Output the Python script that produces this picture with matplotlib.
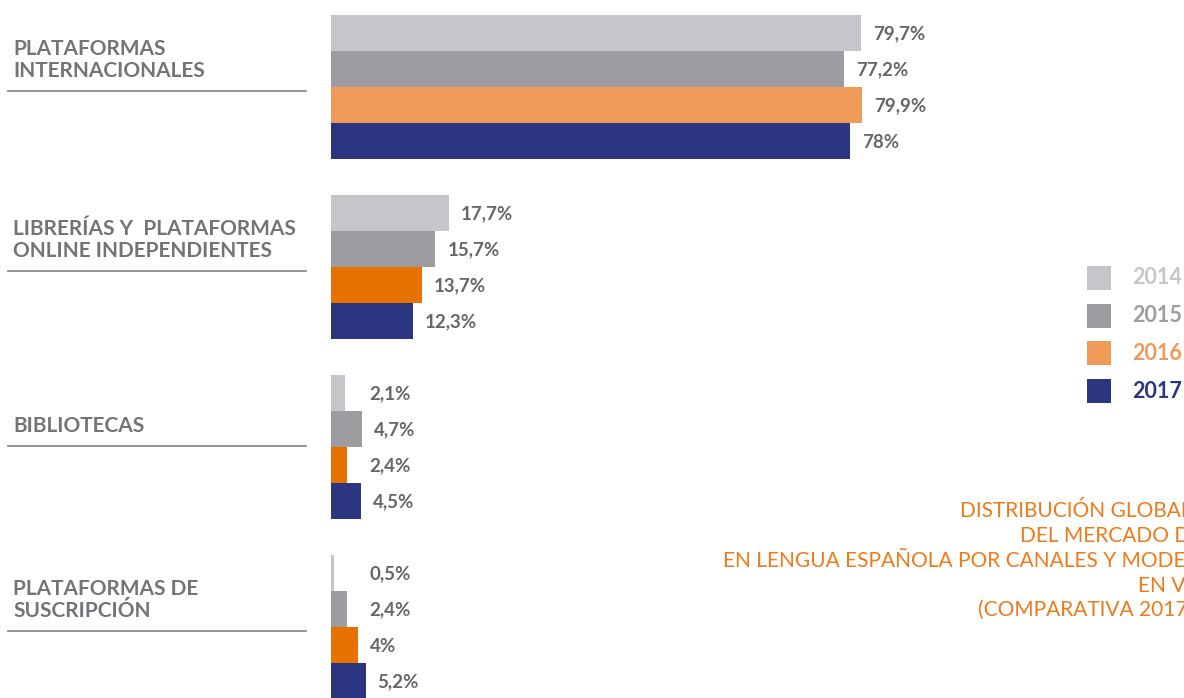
import matplotlib
matplotlib.use("Agg")
import matplotlib.pyplot as plt
from matplotlib.patches import Rectangle
from matplotlib.transforms import blended_transform_factory

# ---- data ----
categories = ["PLATAFORMAS\nINTERNACIONALES",
              "LIBRERÍAS Y  PLATAFORMAS\nONLINE INDEPENDIENTES",
              "BIBLIOTECAS",
              "PLATAFORMAS DE\nSUSCRIPCIÓN"]
years = ["2014", "2015", "2016", "2017"]
v2014 = [79.7, 17.7, 2.1, 0.5]
v2015 = [77.2, 15.7, 4.7, 2.4]
v2016 = [79.9, 13.7, 2.4, 4.0]
v2017 = [78.0, 12.3, 4.5, 5.2]
labels2014 = ["79,7%", "17,7%", "2,1%", "0,5%"]
labels2015 = ["77,2%", "15,7%", "4,7%", "2,4%"]
labels2016 = ["79,9%", "13,7%", "2,4%", "4%"]
labels2017 = ["78%", "12,3%", "4,5%", "5,2%"]
title_lines = ["DISTRIBUCIÓN GLOBAL DE",
               "DEL MERCADO DIGITAL",
               "EN LENGUA ESPAÑOLA POR CANALES Y MODELOS",
               "EN VALOR",
               "(COMPARATIVA 2017-2014)"]

series = [v2014, v2015, v2016, v2017]
series_labels = [labels2014, labels2015, labels2016, labels2017]

# ---- style ----
c14, c15, c16l, c16d, c17 = "#C5C6CA", "#9D9CA1", "#F09B5A", "#E87200", "#2B3580"
bar_colors = [[c14] * 4, [c15] * 4, [c16l, c16d, c16d, c16d], [c17] * 4]
legend_colors = [c14, c15, c16l, c17]
value_color = "#66666A"
cat_color = "#747478"
title_color = "#EE7A1B"
plt.rcParams['font.family'] = ['Lato', 'DejaVu Sans']

W, H = 1184, 698
fig = plt.figure(figsize=(W / 100, H / 100), dpi=100)
ax = fig.add_axes([0, 0, 1, 1])
ax.set_axis_off()

px_per_unit = 6.65
x0 = 331
bar_px = 36.0
top_px = 15
ax.set_xlim(-x0 / px_per_unit, (W - x0) / px_per_unit)
ax.set_ylim((H - top_px) / bar_px, -top_px / bar_px)

group_step = 5.0
for i, (vals, labs) in enumerate(zip(series, series_labels)):
    for g in range(len(categories)):
        y = g * group_step + i + 0.5
        ax.barh(y, vals[g], height=1.0, color=bar_colors[i][g], linewidth=0)
        ax.annotate(labs[g], xy=(max(vals[g], 4.0), y), xytext=(12, -1),
                    textcoords="offset pixels", ha="left", va="center",
                    fontsize=13.5, fontweight="bold", color=value_color)

# category labels and rules
xf = fig.transFigure
bt = blended_transform_factory(xf, ax.transData)
for g, cat in enumerate(categories):
    center = g * group_step + 2.0
    if g == 2:
        center -= 0.15
    ax.plot([8 / W, 306 / W], [center + 0.12, center + 0.12], transform=bt,
            color="#8C8C8F", lw=1.3, clip_on=False)
    ax.annotate(cat, xy=(13 / W, center), xycoords=bt, xytext=(0, 6),
                textcoords="offset pixels", ha="left", va="bottom",
                fontsize=15, fontweight="bold", color=cat_color, linespacing=1.15)

# legend
leg_y = [266, 304, 341, 379]
for yr, col, ly in zip(years, legend_colors, leg_y):
    fig.patches.append(Rectangle((1087 / W, 1 - (ly + 24) / H), 24 / W, 24 / H,
                                 transform=xf, color=col, lw=0))
    fig.text(1132 / W, 1 - (ly + 12) / H, yr, ha="left", va="center",
             fontsize=15.5, fontweight="bold", color=col)

# title lines (right part cut off by figure edge, as in the original)
title_x = [960, 1020, 723, 1138, 978]
title_y = [511, 536, 561, 586, 610]
for t, tx, ty in zip(title_lines, title_x, title_y):
    fig.text(tx / W, 1 - ty / H, t, ha="left", va="center",
             fontsize=15, color=title_color)

fig.savefig("out.png", dpi=100)
